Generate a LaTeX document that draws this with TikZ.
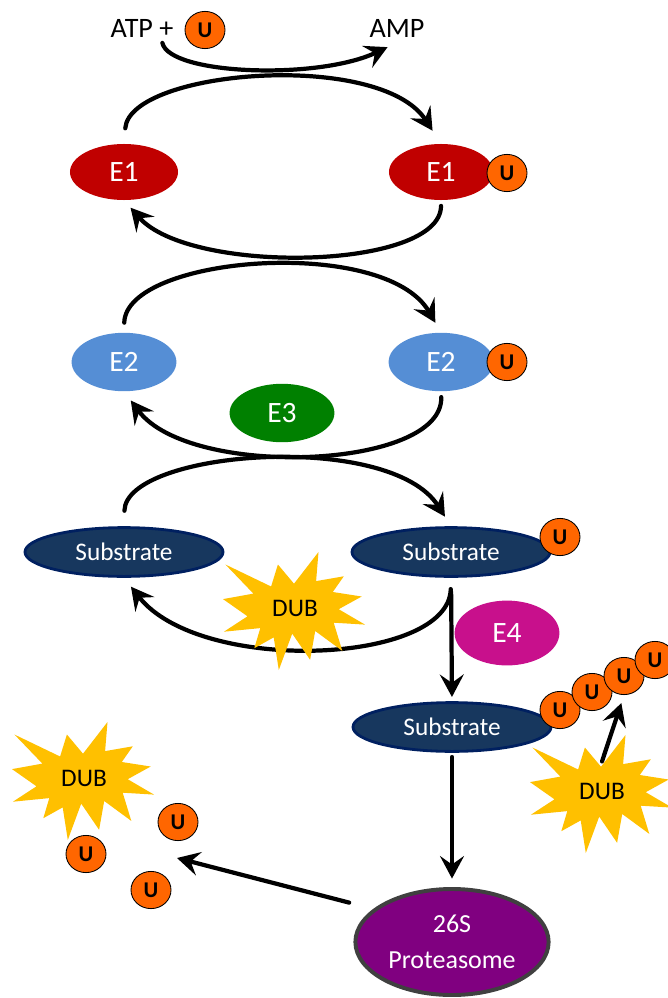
\documentclass[tikz,border=0pt]{standalone}
\usepackage{fontspec}
\setmainfont{Carlito}
\usetikzlibrary{shapes.geometric,arrows.meta}
\definecolor{eonered}{RGB}{192,0,0}
\definecolor{etwoblue}{RGB}{85,142,213}
\definecolor{ethreegreen}{RGB}{0,128,0}
\definecolor{efourpink}{RGB}{200,16,140}
\definecolor{subfill}{RGB}{23,55,94}
\definecolor{subline}{RGB}{0,32,96}
\definecolor{protfill}{RGB}{128,0,128}
\definecolor{protline}{RGB}{64,64,64}
\definecolor{ubqorange}{RGB}{255,102,0}
\definecolor{dubyellow}{RGB}{255,192,0}

% burst shape with the DUB label, #1 name, #2 centre
\newcommand{\dubburst}[2]{%
  \fill[dubyellow,shift={(#2)}] (0,-27.3) -- (-16.1,-46.5) -- (-22.9,-24.5) -- (-68.6,-46.5)
    -- (-40.6,-17.4) -- (-71,-11.9) -- (-46.5,5.3) -- (-70.1,20.7) -- (-33.7,17.1)
    -- (-39.7,37.2) -- (-20.3,26.4) -- (-15.2,59) -- (-1.8,22.6) -- (16.1,48.8)
    -- (21.2,20) -- (48.3,39.9) -- (39.7,11.7) -- (71,13.6) -- (44.7,-1.8)
    -- (67.7,-14.5) -- (38.8,-19) -- (49.8,-34.7) -- (22.1,-29.9) -- (24.5,-59) -- cycle;
  \path[shift={(#2)}] (1,-3) node[dubtext] (#1) {DUB};}

\begin{document}
\begin{tikzpicture}[x=0.025cm,y=-0.025cm,
    enzyme/.style={ellipse,inner sep=0pt,text=white,minimum width=2.62cm,minimum height=1.46cm,font=\fontsize{21}{21}\selectfont},
    substrate/.style={ellipse,inner sep=0pt,text=white,fill=subfill,draw=subline,line width=2pt,minimum width=4.95cm,minimum height=1.22cm,font=\fontsize{18}{18}\selectfont},
    ubq/.style={ellipse,inner sep=0pt,draw=black,line width=0.6pt,fill=ubqorange,minimum width=1cm,minimum height=0.93cm,font=\fontsize{16}{16}\selectfont\bfseries},
    dubtext/.style={inner sep=0pt,font=\fontsize{18}{18}\selectfont},
    chem/.style={inner sep=0pt,font=\fontsize{20}{20}\selectfont},
    flow/.style={line width=3pt,line cap=round,-{Stealth[length=16pt,width=17pt,inset=6pt]}}]
  \useasboundingbox (0,0) rectangle (668,998);

  % activation
  \node[chem] (atp) at (142,28) {ATP +};
  \node[ubq] (uatp) at (205,30) {U};
  \node[chem] (amp) at (397,28) {AMP};

  % enzymes
  \node[enzyme,fill=eonered,minimum width=2.7cm,minimum height=1.4cm] (e1l) at (124,172) {E1};
  \node[enzyme,fill=eonered,minimum width=2.6cm,minimum height=1.4cm] (e1r) at (441,172) {E1};
  \node[ubq] (ue1) at (507,173) {U};
  \node[enzyme,fill=etwoblue] (e2l) at (124,362) {E2};
  \node[enzyme,fill=etwoblue] (e2r) at (441,362) {E2};
  \node[ubq] (ue2) at (507,362) {U};
  \node[enzyme,fill=ethreegreen] (e3) at (282,413) {E3};

  % substrates
  \node[substrate] (subl) at (124,552) {Substrate};
  \node[substrate] (subr) at (451,552) {Substrate};
  \node[ubq] (usub) at (560,537) {U};
  \node[enzyme,fill=efourpink,minimum height=1.62cm] (e4) at (507,633) {E4};
  \node[substrate] (sub3) at (452,727) {Substrate};
  \foreach \x/\y [count=\i] in {560/710,592/692,624/676,655/660}
    \node[ubq] (ch\i) at (\x,\y) {U};

  \node[ellipse,fill=protfill,draw=protline,line width=2.8pt,minimum width=4.6cm,minimum height=2.65cm,
    text=white,align=center,font=\fontsize{18.5}{26}\selectfont] (prot) at (452,942) {26S\\Proteasome};
  \coordinate (pile) at (177,858);

  % transfer cycles
  \draw[flow] ([xshift=-8pt,yshift=-4pt]atp.south east) .. controls +(7,32) and +(-70,33) .. ([xshift=13pt,yshift=-7pt]amp.south west);
  \draw[flow,shorten <=11pt,shorten >=11pt] (e1l.north) .. controls +(6,-74) and +(-61,-94) .. (e1r.north);
  \draw[flow,shorten <=4pt,shorten >=7pt] (e1r.south) .. controls +(0,70) and +(66,75) .. (e1l.south);
  \draw[flow,shorten <=7pt,shorten >=8pt] (e2l.north) .. controls +(2,-77) and +(-56,-97) .. (e2r.north);
  \draw[flow,shorten <=4pt,shorten >=8pt] (e2r.south) .. controls +(3,78) and +(66,88) .. (e2l.south);
  \draw[flow,shorten <=11pt,shorten >=8pt] (subl.north) .. controls +(2,-76) and +(-61,-96) .. (subr.north);
  \draw[flow,shorten <=8pt,shorten >=8pt] (subr.south) .. controls +(-2,87) and +(76,97) .. (subl.south);

  % degradation
  \draw[flow,shorten <=10pt,shorten >=3pt] (subr.south) -- (sub3.north);
  \draw[flow,shorten <=3pt,shorten >=6pt] (sub3.south) -- (prot.north);
  \draw[flow] ([xshift=-3pt,yshift=28pt]prot.west) -- (pile);

  \dubburst{dubm}{294,611}
  \dubburst{dubl}{83,781}
  \dubburst{dubr}{601,794}
  \draw[flow,shorten >=6pt] ([yshift=15pt]dubr.north) -- (ch3.south);

  % released ubiquitin
  \foreach \x/\y [count=\i] in {178/822,86/854,151/890}
    \node[ubq] (free\i) at (\x,\y) {U};
\end{tikzpicture}
\end{document}
